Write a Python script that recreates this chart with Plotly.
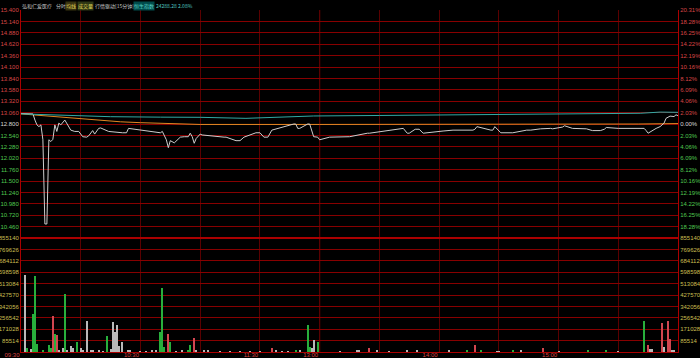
import plotly.graph_objects as go

# ---------------- data ----------------
stock_name = "弘和仁爱医疗"
prev_close = 12.80
index_name = "恒生指数"
index_value = "24288.28"
index_change = "2.08%"

price_ticks = [15.400, 15.140, 14.880, 14.620, 14.360, 14.100, 13.840, 13.580, 13.320, 13.060,
               12.800, 12.540, 12.280, 12.020, 11.760, 11.500, 11.240, 10.980, 10.720, 10.460]
pct_labels = ["20.31%", "18.28%", "16.25%", "14.22%", "12.19%", "10.16%", "8.12%", "6.09%", "4.06%", "2.03%",
              "0.00%", "2.03%", "4.06%", "6.09%", "8.12%", "10.16%", "12.19%", "14.22%", "16.25%", "18.28%"]
vol_ticks = [855140, 769626, 684112, 598598, 513084, 427570, 342056, 256542, 171028, 85514]

time_ticks = [0, 30, 60, 90, 120, 150, 180, 210, 240, 270, 300, 330]
time_labels = ["09:30", "", "10:30", "", "11:30", "13:00", "", "14:00", "", "15:00", "", ""]
midday_break = 150

# minute index (from 09:30, lunch removed) and price
price_min = [0, 6, 7, 8, 9, 10, 11, 12, 13, 14, 15, 16, 17, 18, 19, 20, 22, 23, 25, 27, 29, 31, 33, 34,
             35, 36, 37, 39, 40, 43, 44, 51, 53, 54, 70, 71, 73, 74, 75, 77, 80, 82, 84, 85, 86, 87,
             88, 90, 91, 102, 103, 108, 110, 112, 118, 120, 122, 124, 126, 137, 138, 139, 140, 144,
             145, 147, 148, 149, 150, 155, 165, 167, 174, 175, 190, 192, 194, 195, 198, 200, 202, 205,
             210, 212, 217, 227, 228, 229, 236, 237, 238, 241, 247, 250, 254, 256, 261, 266, 267, 272,
             273, 277, 284, 287, 291, 293, 294, 300, 311, 313, 314, 315, 319, 321, 323, 324, 326, 328,
             329, 330]
price_val = [13.04, 13.03, 12.89, 12.78, 12.74, 12.78, 12.44, 10.52, 10.52, 12.44, 12.40, 12.45, 12.78,
             12.63, 12.82, 12.78, 12.89, 12.82, 12.66, 12.63, 12.63, 12.51, 12.50, 12.53, 12.60, 12.65,
             12.57, 12.70, 12.71, 12.65, 12.63, 12.60, 12.60, 12.70, 12.60, 12.63, 12.44, 12.26, 12.42,
             12.37, 12.50, 12.51, 12.51, 12.59, 12.51, 12.36, 12.47, 12.57, 12.55, 12.50, 12.50, 12.42,
             12.42, 12.50, 12.60, 12.60, 12.50, 12.50, 12.66, 12.80, 12.80, 12.70, 12.70, 12.80, 12.80,
             12.51, 12.50, 12.50, 12.44, 12.50, 12.51, 12.53, 12.59, 12.59, 12.70, 12.70, 12.59, 12.59,
             12.68, 12.68, 12.59, 12.60, 12.63, 12.64, 12.66, 12.66, 12.68, 12.74, 12.66, 12.66, 12.74,
             12.60, 12.60, 12.63, 12.66, 12.66, 12.69, 12.70, 12.69, 12.73, 12.76, 12.70, 12.69, 12.65,
             12.65, 12.68, 12.72, 12.70, 12.70, 12.70, 12.65, 12.59, 12.70, 12.74, 12.82, 12.93, 12.98,
             12.97, 13.01, 12.99, 13.00]

# average price line
avg_min = [0, 8, 16, 25, 33, 42, 50, 60, 70, 80, 90, 150, 210, 270, 310, 330]
avg_val = [13.03, 13.00, 12.97, 12.94, 12.91, 12.88, 12.85, 12.83, 12.82, 12.80, 12.79, 12.79, 12.79,
           12.80, 12.80, 12.81]

# Hang Seng index change (%)
idx_min = [0, 20, 45, 70, 90, 113, 130, 147, 180, 210, 240, 261, 290, 311, 321, 326, 330]
idx_pct = [1.80, 1.55, 1.30, 1.22, 1.19, 1.01, 1.20, 1.43, 1.52, 1.60, 1.70, 1.78, 1.85, 1.91, 2.12,
           2.10, 2.08]

# per-minute volume: minute index, shares, direction (u=up, d=down, f=flat)
vol_min = [2, 3, 5, 6, 7, 8, 11, 14, 15, 16, 17, 18, 19, 21, 22, 23, 25, 26, 28, 30, 31, 33, 35, 36,
           39, 41, 43, 45, 46, 47, 48, 49, 51, 54, 55, 60, 63, 66, 68, 70, 71, 72, 74, 75, 78, 81,
           84, 85, 87, 88, 92, 94, 100, 105, 110, 115, 120, 126, 128, 131, 134, 138, 140, 144, 145,
           146, 147, 149, 160, 169, 170, 175, 179, 185, 194, 199, 215, 224, 228, 231, 239, 240, 247,
           251, 262, 270, 285, 294, 300, 313, 315, 316, 317, 322, 323, 325, 326, 327, 328]
vol_val = [575000, 32000, 19000, 283000, 572000, 62000, 15000, 49000, 31000, 270000, 137000, 125000,
           12000, 32000, 432000, 10000, 47000, 30000, 74000, 28000, 12000, 230000, 16000, 18000, 10000,
           6000, 117000, 20000, 222000, 150000, 200000, 47000, 72000, 10000, 8000, 5000, 6000, 15000,
           12000, 150000, 482000, 38000, 137000, 72000, 6000, 10000, 15000, 51000, 104000, 10000,
           10000, 8000, 5000, 6000, 5000, 6000, 5000, 29000, 8000, 6000, 6000, 12000, 8000, 205000,
           41000, 32000, 87000, 74000, 5000, 10000, 10000, 32000, 12000, 5000, 8000, 8000, 10000,
           10000, 54000, 12000, 6000, 6000, 10000, 8000, 30000, 5000, 8000, 12000, 5000, 230000, 49000,
           20000, 20000, 220000, 37000, 230000, 99000, 10000, 10000]
vol_dir = ["f", "d", "f", "d", "d", "d", "d", "d", "d", "u", "d", "u", "f", "f", "d", "f", "f", "f",
           "d", "f", "f", "f", "f", "f", "f", "f", "d", "f", "f", "f", "f", "f", "f", "f", "f", "f",
           "f", "f", "f", "d", "d", "d", "u", "d", "f", "f", "d", "d", "u", "f", "f", "f", "f", "f",
           "f", "f", "f", "u", "f", "f", "f", "d", "f", "d", "d", "f", "f", "d", "f", "f", "f", "u",
           "f", "f", "f", "f", "f", "d", "u", "d", "f", "f", "d", "f", "u", "f", "d", "d", "f", "d",
           "u", "f", "f", "u", "f", "u", "u", "f", "f"]

# ---------------- styles ----------------
BG = "#000000"
GRID_H = "rgb(135,0,0)"
GRID_V = "rgb(90,0,0)"
BORDER = "rgb(170,0,0)"
RED_TXT = "rgb(215,70,70)"
GREEN_TXT = "rgb(80,200,80)"
WHITE_TXT = "rgb(215,215,215)"
YEL_TXT = "rgb(200,190,80)"
FONT = "Liberation Sans, Arial, sans-serif"
CJK = "Noto Sans CJK SC, sans-serif"
dir_color = {"u": "rgb(210,70,80)", "d": "rgb(40,175,60)", "f": "rgb(185,185,185)"}


def colored(text, color):
    return f"<span style='color:{color}'>{text}</span>"


price_txt = []
pct_txt = []
for p, lab in zip(price_ticks, pct_labels):
    c = RED_TXT if p > prev_close + 1e-9 else (GREEN_TXT if p < prev_close - 1e-9 else WHITE_TXT)
    price_txt.append(colored(f"{p:.3f}", c))
    pct_txt.append(colored(lab, c))
pct_vals = [(p / prev_close - 1) * 100 for p in price_ticks]

step = price_ticks[0] - price_ticks[1]
y_lo = min(price_ticks) - step
y_hi = max(price_ticks)
pct_lo = (y_lo / prev_close - 1) * 100
pct_hi = (y_hi / prev_close - 1) * 100

vol_txt = [colored(str(v), YEL_TXT) for v in vol_ticks]
vol_hi = max(vol_ticks)

fig = go.Figure()

fig.add_trace(go.Bar(x=vol_min, y=vol_val, marker=dict(color=[dir_color[d] for d in vol_dir], line=dict(width=0)),
                     width=0.55, xaxis="x", yaxis="y3", showlegend=False, hoverinfo="skip"))
fig.add_trace(go.Scatter(x=[None], y=[None], xaxis="x", yaxis="y4", showlegend=False, hoverinfo="skip"))
fig.add_trace(go.Scatter(x=idx_min, y=idx_pct, mode="lines", line=dict(color="rgb(50,170,165)", width=1),
                         xaxis="x", yaxis="y2", showlegend=False, hoverinfo="skip"))
fig.add_trace(go.Scatter(x=avg_min, y=avg_val, mode="lines", line=dict(color="rgb(225,135,35)", width=1),
                         xaxis="x", yaxis="y", showlegend=False, hoverinfo="skip"))
fig.add_trace(go.Scatter(x=price_min, y=price_val, mode="lines", line=dict(color="rgb(205,205,205)", width=1),
                         xaxis="x", yaxis="y", showlegend=False, hoverinfo="skip"))

tickfont = dict(family=FONT, size=6)

fig.update_layout(
    width=700, height=358,
    margin=dict(l=21, r=22, t=10, b=6, autoexpand=False),
    paper_bgcolor=BG, plot_bgcolor=BG,
    showlegend=False, hovermode=False,
    bargap=0,
    xaxis=dict(domain=[0, 1], range=[0, 330], anchor="y3", automargin=False,
               tickmode="array", tickvals=time_ticks, ticktext=time_labels,
               tickfont=dict(family=FONT, size=6, color=RED_TXT), ticks="",
               ticklabelshift=-9, ticklabelstandoff=-3,
               showgrid=True, gridcolor=GRID_V, gridwidth=1, zeroline=False,
               showline=True, linecolor=BORDER, linewidth=1),
    yaxis=dict(domain=[10 / 30, 1], range=[y_lo, y_hi], anchor="x", side="left", automargin=False,
               tickmode="array", tickvals=price_ticks, ticktext=price_txt, tickfont=tickfont, ticks="",
               showgrid=True, gridcolor=GRID_H, gridwidth=1, zeroline=False,
               showline=True, linecolor=BORDER, linewidth=1),
    yaxis2=dict(overlaying="y", anchor="x", side="right", range=[pct_lo, pct_hi], automargin=False,
                tickmode="array", tickvals=pct_vals, ticktext=pct_txt, tickfont=tickfont, ticks="",
                showgrid=False, zeroline=False, showline=True, linecolor=BORDER, linewidth=1),
    yaxis3=dict(domain=[0, 10 / 30], range=[0, vol_hi], anchor="x", side="left", automargin=False,
                tickmode="array", tickvals=vol_ticks, ticktext=vol_txt, tickfont=tickfont, ticks="",
                showgrid=True, gridcolor=GRID_H, gridwidth=1, zeroline=False,
                showline=True, linecolor=BORDER, linewidth=1),
    yaxis4=dict(overlaying="y3", anchor="x", side="right", range=[0, vol_hi], automargin=False,
                tickmode="array", tickvals=vol_ticks, ticktext=vol_txt, tickfont=tickfont, ticks="",
                showgrid=False, zeroline=False, showline=True, linecolor=BORDER, linewidth=1),
)

# separator between price and volume panels, and midday session line
fig.add_shape(type="line", xref="x domain", yref="y3 domain", x0=0, x1=1, y0=1, y1=1,
              line=dict(color=BORDER, width=2), layer="above")
fig.add_shape(type="line", xref="x", yref="paper", x0=midday_break, x1=midday_break, y0=0, y1=1,
              line=dict(color="rgb(190,0,0)", width=1), layer="below")

# header
plot_w = 700 - 21 - 22
plot_h = 358 - 10 - 6


def px_x(px):
    return (px - 21) / plot_w


hdr_y = (plot_h + 10 - 5.5) / plot_h
header = [
    (stock_name, 21, "rgb(200,200,200)", None),
    ("分时", 55, "rgb(200,200,200)", None),
    ("均线", 65, "rgb(225,215,90)", "rgb(55,50,15)"),
    ("成交量", 77, "rgb(225,215,90)", "rgb(45,55,20)"),
    ("行情驱动[15分钟]", 94, "rgb(200,200,200)", None),
    (index_name, 133, "rgb(90,210,200)", "rgb(0,75,75)"),
    (f"{index_value} {index_change}", 155, "rgb(80,200,195)", None),
]
for txt, px, col, bg in header:
    fig.add_annotation(text=txt, xref="paper", yref="paper", x=px_x(px), y=hdr_y,
                       xanchor="left", yanchor="middle", showarrow=False,
                       font=dict(family=CJK, size=5, color=col),
                       bgcolor=bg if bg else "rgba(0,0,0,0)", borderpad=0)

fig.write_html("out.html")
